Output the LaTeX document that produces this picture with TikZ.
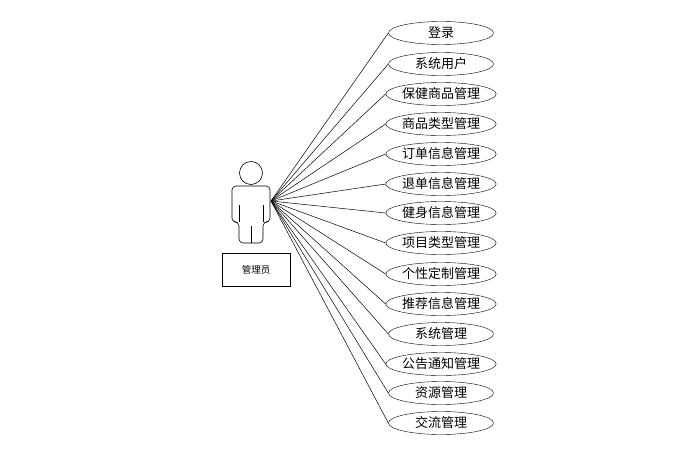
\documentclass[tikz,border=0pt]{standalone}
\usepackage{fontspec}
\setmainfont{Noto Sans CJK SC}
\usetikzlibrary{shapes.geometric}
\begin{document}
\begin{tikzpicture}[x=1pt,y=-1pt,
  uc/.style={draw,ellipse,minimum width=105pt,minimum height=23pt,inner sep=0pt,font=\fontsize{13}{13}\selectfont},
  lk/.style={draw,line width=0.5pt}]
\useasboundingbox (0,0) rectangle (694,453);
\coordinate (hub) at (271,201);
\foreach \i/\y/\t in {1/33/登录,2/64/系统用户,3/94/保健商品管理,4/124/商品类型管理,5/154/订单信息管理,6/184/退单信息管理,7/213/健身信息管理,8/243/项目类型管理,9/274/个性定制管理,10/304/推荐信息管理,11/334/系统管理,12/364/公告通知管理,13/393/资源管理,14/423/交流管理}{
  \node[uc] (u\i) at (441,\y) {\t};
  \draw[lk] (hub) -- (u\i.west);
}
\draw[line width=0.6pt,rounded corners=4pt] (232,222)--(232,186)--(270,186)--(270,222)--(263,222)--(263,243)--(239,243)--(239,222)--cycle;
\draw[line width=0.6pt] (239,205)--(239,222) (263,205)--(263,222) (251,226)--(251,243);
\draw[line width=0.6pt,fill=white] (251,173) circle (11.5);
\node[draw,minimum width=68pt,minimum height=33pt,font=\fontsize{9.5}{9.5}\selectfont] (lab) at (256,269.5) {管理员};
\end{tikzpicture}
\end{document}
